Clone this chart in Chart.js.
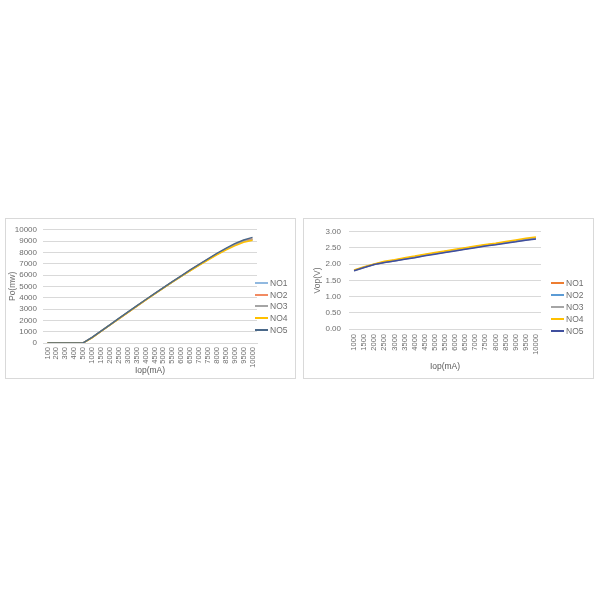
<!DOCTYPE html>
<html>
<head>
<meta charset="utf-8">
<script src="https://cdn.jsdelivr.net/npm/chart.js@4.4.1/dist/chart.umd.min.js"></script>
<style>
  html, body { margin: 0; padding: 0; background: #fff; width: 600px; height: 600px; overflow: hidden; }
  body { position: relative; font-family: "Liberation Sans", Arial, sans-serif; }
  .box { position: absolute; top: 218px; width: 291px; height: 161px; border: 1px solid #d9d9d9; box-sizing: border-box; }
  .box canvas { position: absolute; left: 0; top: 0; }
  .legend-item { position: absolute; height: 12px; line-height: 12px; font-size: 8.5px; color: #6e6e6e; white-space: nowrap; }
  .legend-item span.swatch { position: absolute; left: 0; top: 5px; width: 13px; height: 2px; }
  .legend-item span.txt { position: absolute; left: 15px; top: 0; }
</style>
</head>
<body>
<div class="box" style="left:5px"><canvas id="poChart" width="289" height="159"></canvas></div>
<div class="box" style="left:303px"><canvas id="vopChart" width="289" height="159"></canvas></div>

<script>
// ============================================================
// DATA
// ============================================================

const seriesNames = ['NO1', 'NO2', 'NO3', 'NO4', 'NO5'];

// Po vs Iop
const poLabels = ['100', '200', '300', '400', '500', '1000', '1500', '2000', '2500', '3000', '3500', '4000',
  '4500', '5000', '5500', '6000', '6500', '7000', '7500', '8000', '8500', '9000', '9500', '10000'];
const poNO1 = [0, 0, 0, 0, 10, 480, 1040, 1600, 2150, 2700, 3250, 3800, 4340, 4870, 5400, 5910, 6420, 6910, 7390, 7850, 8280, 8680, 9000, 9200];
const poNO2 = [0, 0, 0, 0, 10, 470, 1030, 1590, 2140, 2690, 3240, 3790, 4330, 4860, 5390, 5910, 6430, 6930, 7410, 7880, 8320, 8730, 9060, 9180];
const poNO3 = [0, 0, 0, 0, 10, 490, 1050, 1610, 2160, 2710, 3260, 3800, 4340, 4860, 5380, 5890, 6400, 6890, 7370, 7830, 8270, 8670, 8990, 9130];
const poNO4 = [0, 0, 0, 0, 5, 460, 1020, 1580, 2130, 2680, 3230, 3780, 4320, 4850, 5370, 5880, 6380, 6860, 7330, 7780, 8200, 8580, 8900, 9080];
const poNO5 = [0, 0, 0, 0, 10, 490, 1050, 1610, 2170, 2720, 3270, 3820, 4360, 4890, 5420, 5940, 6450, 6950, 7440, 7910, 8360, 8780, 9100, 9330];
const poColors = ['#91b9e0', '#f28b62', '#a5a5a5', '#ffc000', '#4a6889'];

// Vop vs Iop
const vopLabels = ['1000', '1500', '2000', '2500', '3000', '3500', '4000', '4500', '5000', '5500',
  '6000', '6500', '7000', '7500', '8000', '8500', '9000', '9500', '10000'];
const vopNO1 = [1.81, 1.91, 2.00, 2.07, 2.12, 2.18, 2.23, 2.29, 2.34, 2.39, 2.44, 2.49, 2.54, 2.59, 2.63, 2.68, 2.72, 2.77, 2.81];
const vopNO2 = [1.81, 1.91, 2.00, 2.06, 2.11, 2.17, 2.22, 2.28, 2.33, 2.38, 2.43, 2.48, 2.53, 2.58, 2.62, 2.67, 2.71, 2.76, 2.80];
const vopNO3 = [1.80, 1.90, 1.99, 2.05, 2.10, 2.16, 2.21, 2.27, 2.32, 2.37, 2.42, 2.47, 2.52, 2.57, 2.61, 2.66, 2.70, 2.75, 2.79];
const vopNO4 = [1.82, 1.92, 2.01, 2.09, 2.14, 2.20, 2.25, 2.31, 2.36, 2.41, 2.46, 2.51, 2.56, 2.61, 2.65, 2.70, 2.75, 2.80, 2.84];
const vopNO5 = [1.80, 1.90, 1.99, 2.05, 2.10, 2.15, 2.20, 2.26, 2.31, 2.36, 2.41, 2.46, 2.51, 2.56, 2.60, 2.65, 2.69, 2.74, 2.78];
const vopColors = ['#ed7d31', '#5b9bd5', '#a5a5a5', '#ffc000', '#3f4f9e'];

// ============================================================
// HELPERS
// ============================================================

const FONT = '"Liberation Sans", Arial, sans-serif';
const TEXT = '#6e6e6e';
const GRID = '#d9d9d9';

function buildDatasets(seriesData, colors) {
  return seriesData.map((data, i) => ({
    label: seriesNames[i],
    data,
    borderColor: colors[i],
    backgroundColor: colors[i],
    borderWidth: 1.5,
    pointRadius: 0,
    tension: 0,
    fill: false,
    order: seriesData.length - i
  }));
}

function makeChart(id, labels, datasets, cfg) {
  return new Chart(document.getElementById(id).getContext('2d'), {
    type: 'line',
    data: { labels, datasets },
    options: {
      responsive: false,
      animation: false,
      layout: { padding: { top: 10, right: cfg.padRight, left: 0, bottom: 0 } },
      plugins: { legend: { display: false }, tooltip: { enabled: false } },
      scales: {
        x: {
          offset: true,
          grid: { display: true, drawOnChartArea: false, drawTicks: false },
          border: { display: true, color: GRID, width: 1 },
          ticks: {
            autoSkip: false, minRotation: 90, maxRotation: 90,
            padding: cfg.xTickPad, color: TEXT, font: { family: FONT, size: 7.5 }
          },
          title: {
            display: true, text: 'Iop(mA)', color: '#595959',
            font: { family: FONT, size: 8.5 }, padding: { top: 0, bottom: cfg.xTitlePad }
          },
          afterFit: s => { s.height = cfg.xHeight; }
        },
        y: {
          min: cfg.min, max: cfg.max,
          grid: { color: GRID, lineWidth: 1, drawTicks: false },
          border: { display: false },
          ticks: {
            stepSize: cfg.step, autoSkip: false, padding: cfg.yTickPad, color: TEXT,
            font: { family: FONT, size: 8 }, callback: cfg.fmt
          },
          title: {
            display: true, text: cfg.yTitle, color: TEXT,
            font: { family: FONT, size: 8.5 }, padding: { top: cfg.yTitlePad, bottom: 0 }
          },
          afterFit: s => { s.width = cfg.yWidth; }
        }
      }
    }
  });
}

function addLegend(colors, cfg) {
  seriesNames.forEach((name, i) => {
    const item = document.createElement('div');
    item.className = 'legend-item';
    item.style.left = cfg.x + 'px';
    item.style.top = Math.round(cfg.y0 + i * cfg.dy - 6) + 'px';
    item.innerHTML = `<span class="swatch" style="background:${colors[i]}"></span><span class="txt">${name}</span>`;
    document.body.appendChild(item);
  });
}

// ============================================================
// CHARTS
// ============================================================

makeChart('poChart', poLabels, buildDatasets([poNO1, poNO2, poNO3, poNO4, poNO5], poColors), {
  min: 0, max: 10000, step: 1000, fmt: v => v,
  yTitle: 'Po(mw)', yWidth: 37, yTickPad: 6, yTitlePad: 2,
  xHeight: 35, xTickPad: 4, xTitlePad: 2, padRight: 38
});

makeChart('vopChart', vopLabels, buildDatasets([vopNO1, vopNO2, vopNO3, vopNO4, vopNO5], vopColors), {
  min: 0, max: 3, step: 0.5, fmt: v => Number(v).toFixed(2),
  yTitle: 'Vop(V)', yWidth: 45, yTickPad: 8, yTitlePad: 9,
  xHeight: 49, xTickPad: 5, xTitlePad: 6, padRight: 52
});

addLegend(poColors, { x: 255, y0: 283, dy: 11.65 });
addLegend(vopColors, { x: 551, y0: 283, dy: 12.1 });
</script>
</body>
</html>
